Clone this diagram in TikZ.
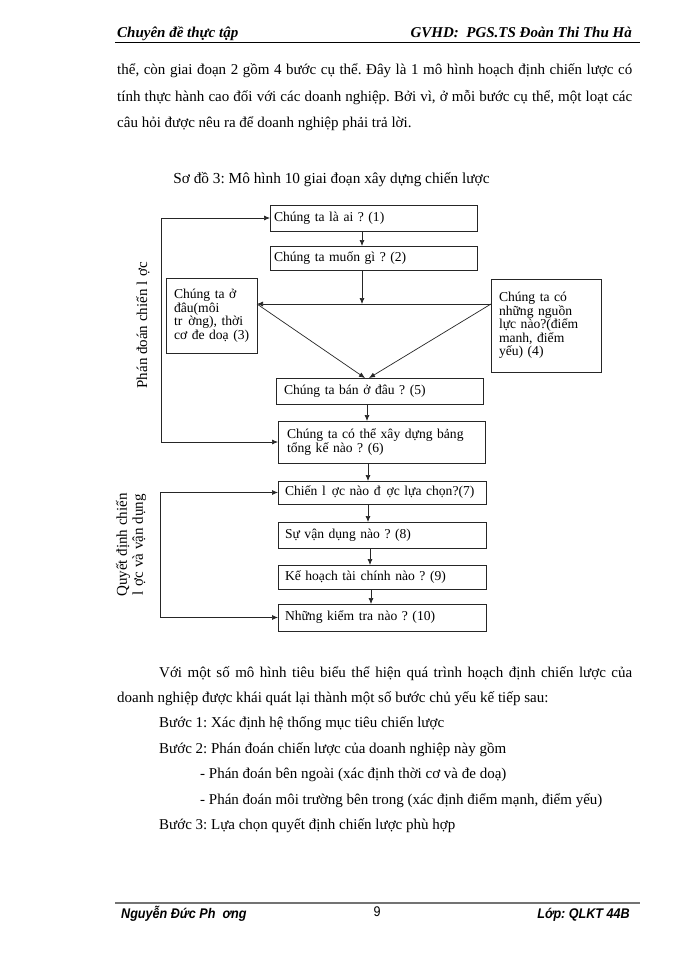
\documentclass[tikz,border=0pt]{standalone}
\usepackage{fontspec}
\setmainfont{Liberation Serif}
\newfontfamily\footsans[FakeStretch=0.9]{Liberation Sans}
\usetikzlibrary{arrows.meta,calc}
\frenchspacing
\newcommand\bdfont{\fontsize{15}{17}\selectfont}
\newcommand\bxfont{\fontsize{13.6}{13.5}\selectfont}
\newcommand\lbfont{\fontsize{15}{16}\selectfont}
\newcommand\hdfont{\fontsize{15}{17}\selectfont\bfseries\itshape}
\newcommand\ftfont{\fontsize{14}{16}\selectfont\footsans\bfseries\itshape}
\newcommand\gp{\ \hspace{1.5pt}}
\begin{document}
\begin{tikzpicture}[x=1pt,y=-1pt,
  box/.style={draw=black!85,line width=0.8pt,anchor=north west,outer sep=0pt,inner ysep=0pt,inner xsep=#1,align=left,font=\bxfont},
  box/.default=7pt,
  ar/.style={-{Latex[length=6pt,width=5pt]},line width=0.7pt,draw=black!85},
  arb/.style={{Latex[length=6pt,width=5pt]}-{Latex[length=6pt,width=5pt]},line width=0.7pt,draw=black!85},
  body/.style={anchor=base west,inner sep=0pt,font=\bdfont},
  lbl/.style={rotate=90,inner sep=0pt,align=center,font=\lbfont},
]
\useasboundingbox (0,0) rectangle (700,960);
\fill[white] (0,0) rectangle (700,960);

% header
\node[anchor=base west,inner sep=0pt,font=\hdfont] (hl) at (117,38) {Chuyên đề thực tập};
\node[anchor=base east,inner sep=0pt,font=\hdfont] (hr) at (632,38) {GVHD:\ \ PGS.TS Đoàn Thi Thu Hà};
\draw[line width=0.8pt] (115,42) -- (640,42);

% top body text
\node[body] (t1) at (117,75) {\makebox[515pt][s]{thể, còn giai đoạn 2 gồm 4 bước cụ thể. Đây là 1 mô hình hoạch định chiến lược có}};
\node[body] (t2) at (117,102) {\makebox[515pt][s]{tính thực hành cao đối với các doanh nghiệp. Bởi vì, ở mỗi bước cụ thể, một loạt các}};
\node[body] (t3) at (117,128) {câu hỏi được nêu ra để doanh nghiệp phải trả lời.};

% caption
\node[inner sep=0pt,font=\fontsize{15.3}{17}\selectfont] (cap) at (331.5,180) {Sơ đồ 3: Mô hình 10 giai đoạn xây dựng chiến lược};

% boxes
\node[box=4pt,minimum width=207pt,minimum height=26pt,text width=199pt] (B1) at (270,205) {\mbox{Chúng ta là ai ? (1)}};
\node[box=4pt,minimum width=207pt,minimum height=24pt,text width=199pt] (B2) at (270,246) {\mbox{Chúng ta muốn gì ? (2)}};
\node[box=8pt,minimum width=91pt,minimum height=75pt,text width=75pt] (B3) at (166,278) {\mbox{Chúng ta ở}\\\mbox{đâu(môi}\\\mbox{tr\gp ờng), thời}\\\mbox{cơ đe doạ (3)}};
\node[box=8pt,minimum width=110pt,minimum height=93pt,text width=94pt] (B4) at (491,279) {\mbox{Chúng ta có}\\\mbox{những nguồn}\\\mbox{lực nào?(điểm}\\\mbox{manh, điểm}\\\mbox{yếu) (4)}};
\node[box=8pt,minimum width=207pt,minimum height=26pt,text width=191pt] (B5) at (276,378) {\mbox{Chúng ta bán ở đâu ? (5)}};
\node[box=9pt,minimum width=207pt,minimum height=42pt,text width=189pt] (B6) at (278,421) {\mbox{Chúng ta có thể xây dựng bảng}\\\mbox{tổng kế nào ? (6)}};
\node[box=7pt,minimum width=208pt,minimum height=23pt,text width=194pt] (B7) at (278,481) {\mbox{Chiến l\gp ợc nào đ\gp ợc lựa chọn?(7)}};
\node[box=7pt,minimum width=208pt,minimum height=26pt,text width=194pt] (B8) at (278,522) {\mbox{Sự vận dụng nào ? (8)}};
\node[box=7pt,minimum width=208pt,minimum height=24pt,text width=194pt] (B9) at (278,565) {\mbox{Kế hoạch tài chính nào ? (9)}};
\node[box=7pt,minimum width=208pt,minimum height=27pt,text width=194pt] (B10) at (278,604) {\mbox{Những kiểm tra nào ? (10)}};

% helper coordinates
\coordinate (x12) at (362,0);
\coordinate (J) at (362,304);
\coordinate (t5a) at (365,0);
\coordinate (t5b) at (369,0);
\coordinate (x56) at (367,0);
\coordinate (x67) at (368,0);
\coordinate (x78) at (368,0);
\coordinate (x89) at (370,0);
\coordinate (x910) at (371,0);
\coordinate (L1) at (161,0);
\coordinate (L2) at (160,0);

% connectors
\draw[ar] (B1.south -| x12) -- (B2.north -| x12);
\draw[ar] (B2.south -| J) -- (J);
\draw[ar] (B4.west |- J) -- (B3.east |- J);
\draw[ar] (B3.east |- J) -- (B5.north -| t5a);
\draw[ar] (B4.west |- J) -- (B5.north -| t5b);
\draw[ar] (B5.south -| x56) -- (B6.north -| x56);
\draw[ar] (B6.south -| x67) -- (B7.north -| x67);
\draw[ar] (B7.south -| x78) -- (B8.north -| x78);
\draw[ar] (B8.south -| x89) -- (B9.north -| x89);
\draw[ar] (B9.south -| x910) -- (B10.north -| x910);
\draw[arb] (B1.west) -- (B1.west -| L1) -- (B6.west -| L1) -- (B6.west);
\draw[arb] (B7.west) -- (B7.west -| L2) -- (B10.west -| L2) -- (B10.west);

% side labels
\node[lbl] (lab1) at (143,325) {Phán đoán chiến l\gp ợc};
\node[lbl] (lab2) at (131,545) {Quyết định chiến\\l\gp ợc và vận dụng};

% bottom body text
\node[body] (u1) at (159,677) {\makebox[473pt][s]{Với một số mô hình tiêu biểu thể hiện quá trình hoạch định chiến lược của}};
\node[body] (u2) at (117,702) {doanh nghiệp được khái quát lại thành một số bước chủ yếu kế tiếp sau:};
\node[body] (u3) at (159,727.5) {Bước 1: Xác định hệ thống mục tiêu chiến lược};
\node[body] (u4) at (159,753) {Bước 2: Phán đoán chiến lược của doanh nghiệp này gồm};
\node[body] (u5) at (200,778) {- Phán đoán bên ngoài (xác định thời cơ và đe doạ)};
\node[body] (u6) at (200,804) {- Phán đoán môi trường bên trong (xác định điểm mạnh, điểm yếu)};
\node[body] (u7) at (159,829.5) {Bước 3: Lựa chọn quyết định chiến lược phù hợp};

% footer
\draw[line width=2.4pt,black!55] (115,903) -- (640,903);
\node[anchor=base west,inner sep=0pt,font=\ftfont] (fl) at (121,918) {Nguyễn Đức Ph\ \ ơng};
\node[anchor=base,inner sep=0pt,font=\fontsize{14}{16}\selectfont\footsans] (fc) at (377,916) {9};
\node[anchor=base east,inner sep=0pt,font=\ftfont] (fr) at (630,918) {Lớp: QLKT 44B};
\end{tikzpicture}
\end{document}
